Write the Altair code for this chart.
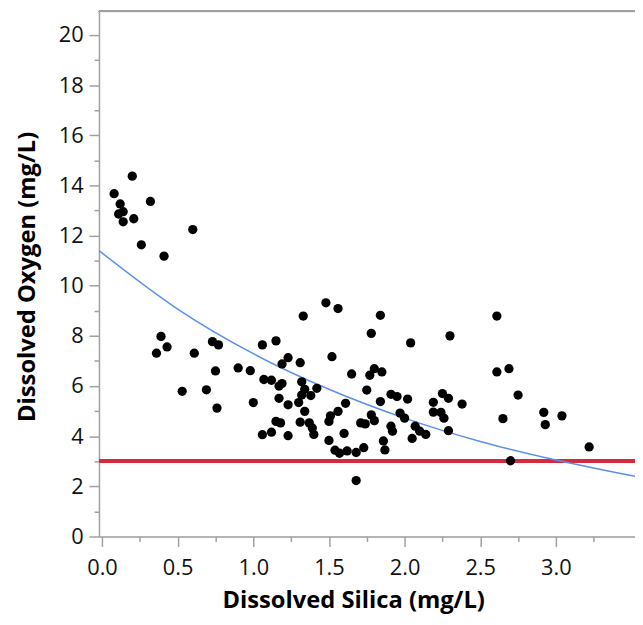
import altair as alt
import pandas as pd

# Scatter data
silica = [0.20, 0.08, 0.32, 0.12, 0.14, 0.11, 0.21, 0.14, 0.60, 0.26, 0.41,
          0.39, 0.43, 0.36, 0.73, 0.77, 0.61, 1.06, 1.15, 1.23, 1.19, 0.75, 0.90, 0.98, 1.07,
          1.12, 1.17, 1.19, 0.53, 0.69, 1.17, 1.23, 0.76, 1.00, 1.15, 1.18, 1.06, 1.12, 1.23,
          1.48, 1.56, 1.33, 1.84, 1.78, 2.04, 2.30, 1.52, 1.31, 1.32, 1.42, 1.34, 1.32, 1.38,
          1.30, 1.65, 1.77, 1.80, 1.85, 1.75, 1.61, 1.84, 1.91, 1.95, 2.02, 2.19, 2.25, 2.29,
          2.38, 1.34, 1.56, 1.51, 1.50, 1.31, 1.37, 1.39, 1.40, 1.60, 1.50, 1.71, 1.74, 1.78,
          1.80, 1.97, 2.00, 1.91, 1.92, 2.07, 2.10, 2.14, 2.05, 1.86, 1.87, 1.54, 1.57, 1.62,
          1.68, 1.73, 1.68, 2.29, 2.19,
          2.61, 2.61, 2.69, 2.75, 2.24, 2.26, 2.65, 2.92, 2.93, 3.04, 3.22, 2.70]
oxygen = [14.37, 13.67, 13.36, 13.26, 12.95, 12.86, 12.67, 12.55, 12.24, 11.63, 11.18,
          7.98, 7.56, 7.31, 7.77, 7.64, 7.31, 7.64, 7.80, 7.13, 6.88, 6.60, 6.72, 6.61, 6.26,
          6.23, 6.00, 6.10, 5.79, 5.85, 5.51, 5.25, 5.12, 5.34, 4.59, 4.53, 4.06, 4.16, 4.02,
          9.32, 9.09, 8.79, 8.82, 8.10, 7.72, 8.00, 7.17, 6.93, 6.17, 5.91, 5.87, 5.64, 5.62,
          5.34, 6.48, 6.43, 6.69, 6.56, 5.84, 5.31, 5.38, 5.67, 5.58, 5.48, 5.35, 5.70, 5.51,
          5.28, 4.99, 4.99, 4.81, 4.59, 4.56, 4.53, 4.33, 4.07, 4.11, 3.83, 4.53, 4.49, 4.85,
          4.62, 4.92, 4.72, 4.40, 4.20, 4.40, 4.20, 4.07, 3.91, 3.81, 3.45, 3.44, 3.32, 3.41,
          3.35, 3.54, 2.23, 4.22, 4.96,
          8.79, 6.56, 6.69, 5.64, 4.95, 4.72, 4.70, 4.95, 4.46, 4.81, 3.57, 3.02]

# Fitted curve at several x positions
curve_x = [-0.02, 0.5, 1.0, 1.5, 2.0, 2.5, 3.0, 3.53]
curve_y = [11.40, 9.07, 7.29, 5.87, 4.72, 3.79, 3.05, 2.39]

threshold = 3

x_major = [0, 0.5, 1.0, 1.5, 2.0, 2.5, 3.0]
x_minor = [0.25, 0.75, 1.25, 1.75, 2.25, 2.75, 3.25]
y_major = [0, 2, 4, 6, 8, 10, 12, 14, 16, 18, 20]
y_minor = [1, 3, 5, 7, 9, 11, 13, 15, 17, 19]

pts = pd.DataFrame({"silica": silica, "oxygen": oxygen})
crv = pd.DataFrame({"silica": curve_x, "oxygen": curve_y})

W, H = 542, 531
xs = alt.Scale(domain=[-0.02, 3.523], nice=False, zero=False)
ys = alt.Scale(domain=[0, 20.94], nice=False, zero=False)

FONT = "Open Sans"
AX = "#a0a0a0"

x_axis = alt.Axis(values=x_major, format=".1f", tickSize=10, labelPadding=11,
                  labelFont=FONT, labelFontSize=22, labelColor="#111111",
                  domainColor=AX, tickColor=AX, domainWidth=1.5, tickWidth=1.5,
                  grid=False, orient="bottom",
                  title="Dissolved Silica (mg/L)", titleFont=FONT, titleFontSize=24,
                  titleFontWeight="bold", titleColor="#000000",
                  titleX=257, titleY=72, titleAlign="center", titleBaseline="alphabetic")
y_axis = alt.Axis(values=y_major, format="d", tickSize=10, labelPadding=6,
                  labelFont=FONT, labelFontSize=22, labelColor="#111111",
                  domainColor=AX, tickColor=AX, domainWidth=1.5, tickWidth=1.5,
                  grid=False, orient="left",
                  title="Dissolved Oxygen (mg/L)", titleFont=FONT, titleFontSize=24,
                  titleFontWeight="bold", titleColor="#000000", titleAngle=270,
                  titleX=-72, titleY=268, titleAlign="center", titleBaseline="middle")
x_minor_axis = alt.Axis(values=x_minor, tickSize=5, labels=False, domain=False,
                        tickColor=AX, tickWidth=1.5, grid=False, orient="bottom", title=None)
y_minor_axis = alt.Axis(values=y_minor, tickSize=5, labels=False, domain=False,
                        tickColor=AX, tickWidth=1.5, grid=False, orient="left", title=None)

frame_top = alt.Chart(pts).mark_rule(color=AX, strokeWidth=1.5).encode(
    x=alt.value(0), x2=alt.value(W), y=alt.value(0))

red = alt.Chart(pts).mark_rule(color="#d42a3c", strokeWidth=3.5, clip=True).encode(
    y=alt.datum(threshold, scale=ys, axis=None))

line = alt.Chart(crv).mark_line(color="#5b8ef0", strokeWidth=1.5, interpolate="monotone",
                               clip=True).encode(
    x=alt.X("silica:Q", scale=xs, axis=x_minor_axis),
    y=alt.Y("oxygen:Q", scale=ys, axis=y_minor_axis))

points = alt.Chart(pts).mark_circle(color="#000000", size=88, opacity=1, clip=True).encode(
    x=alt.X("silica:Q", scale=xs, axis=x_axis),
    y=alt.Y("oxygen:Q", scale=ys, axis=y_axis))

chart = alt.layer(red, line, points, frame_top).resolve_axis(
    x="independent", y="independent"
).properties(
    width=W, height=H,
    autosize=alt.AutoSizeParams(type="none"),
    padding={"left": 92, "top": 0, "right": 0, "bottom": 78},
).configure_view(stroke=None).configure(background="white")

chart.save("out.html", embed_options={"renderer": "svg", "actions": False})
